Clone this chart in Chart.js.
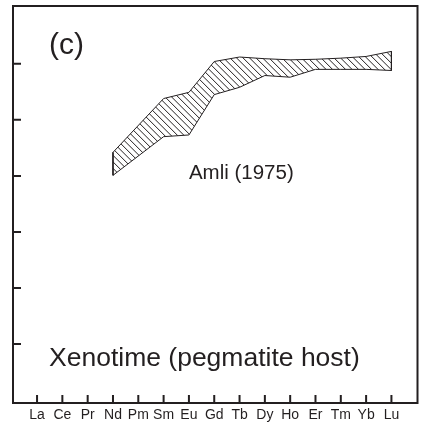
<!DOCTYPE html>
<html>
<head>
<meta charset="utf-8">
<script src="https://cdn.jsdelivr.net/npm/chart.js@4"></script>
<style>
  html, body { margin: 0; padding: 0; background: #ffffff; }
  #wrap { width: 424px; height: 423px; }
</style>
</head>
<body>
<div id="wrap"><canvas id="ree" width="424" height="423"></canvas></div>
<script>
// Rare earth elements along the x axis
const elements = ['La', 'Ce', 'Pr', 'Nd', 'Pm', 'Sm', 'Eu', 'Gd', 'Tb', 'Dy', 'Ho', 'Er', 'Tm', 'Yb', 'Lu'];
// Field of xenotime compositions, log10 chondrite-normalised (null = not analysed)
const upperLog = [null, null, null, 4.42, null, 5.38, 5.49, 6.04, 6.12, 6.09, 6.07, 6.08, 6.10, 6.13, 6.22];
const lowerLog = [null, null, null, 4.01, null, 4.70, 4.73, 5.45, 5.58, 5.79, 5.76, 5.90, 5.90, 5.90, 5.88];
// Decade tick marks on the y axis (log10 units)
const yTickValues = [1, 2, 3, 4, 5, 6];

const INK = '#231f20';
const FONT = 'Liberation Sans, Arial, Helvetica, sans-serif';

function toPoints(arr) {
  return arr.map((v, i) => ({ x: i, y: v })).filter(p => p.y !== null);
}
const upperPts = toPoints(upperLog);
const lowerPts = toPoints(lowerLog);
const firstPt = 0, lastPt = upperPts.length - 1;

// Hatches the area between the upper and lower bound lines with "\" strokes
const hatchPlugin = {
  id: 'hatch',
  beforeDatasetsDraw(chart) {
    const up = chart.getDatasetMeta(0).data;
    const lo = chart.getDatasetMeta(1).data;
    if (!up.length || !lo.length) return;
    const { ctx } = chart;
    const xs = up.concat(lo).map(p => p.x), ys = up.concat(lo).map(p => p.y);
    const minX = Math.min(...xs), maxX = Math.max(...xs);
    const minY = Math.min(...ys), maxY = Math.max(...ys);
    const h = maxY - minY;
    ctx.save();
    ctx.beginPath();
    up.forEach((p, i) => (i ? ctx.lineTo(p.x, p.y) : ctx.moveTo(p.x, p.y)));
    for (let i = lo.length - 1; i >= 0; i--) ctx.lineTo(lo[i].x, lo[i].y);
    ctx.closePath();
    ctx.clip();
    ctx.beginPath();
    for (let c = minX - h - 8; c < maxX + 8; c += 6.5) {
      ctx.moveTo(c, minY - 2);
      ctx.lineTo(c + h + 4, maxY + 2);
    }
    ctx.strokeStyle = INK;
    ctx.lineWidth = 1;
    ctx.stroke();
    ctx.restore();
  }
};

const framePlugin = {
  id: 'frame',
  afterDraw(chart) {
    const { ctx, chartArea: a, scales: { x, y } } = chart;
    ctx.save();
    ctx.strokeStyle = INK;
    ctx.lineWidth = 2;
    ctx.strokeRect(a.left, a.top, a.right - a.left, a.bottom - a.top);
    ctx.beginPath();
    yTickValues.forEach(v => {
      const py = y.getPixelForValue(v);
      ctx.moveTo(a.left, py); ctx.lineTo(a.left + 8, py);
    });
    elements.forEach((_, i) => {
      const px = x.getPixelForValue(i);
      ctx.moveTo(px, a.bottom); ctx.lineTo(px, a.bottom - 8);
    });
    ctx.stroke();

    ctx.fillStyle = INK;
    ctx.textBaseline = 'alphabetic';
    ctx.textAlign = 'left';
    ctx.font = '30px ' + FONT;
    ctx.fillText('(c)', a.left + 36, a.top + 48);
    ctx.font = '20.5px ' + FONT;
    ctx.fillText('Amli (1975)', x.getPixelForValue(6.0), y.getPixelForValue(3.95));
    ctx.font = '26.5px ' + FONT;
    ctx.fillText('Xenotime (pegmatite host)', a.left + 36, a.bottom - 37);
    ctx.restore();
  }
};

const lineStyle = { borderColor: INK, borderWidth: 1, pointRadius: 0, tension: 0, fill: false };

new Chart(document.getElementById('ree'), {
  type: 'line',
  data: {
    datasets: [
      Object.assign({ label: 'upper', data: upperPts }, lineStyle),
      Object.assign({ label: 'lower', data: lowerPts }, lineStyle),
      Object.assign({ label: 'left edge', data: [upperPts[firstPt], lowerPts[firstPt]] }, lineStyle),
      Object.assign({ label: 'right edge', data: [upperPts[lastPt], lowerPts[lastPt]] }, lineStyle)
    ]
  },
  options: {
    responsive: false,
    animation: false,
    devicePixelRatio: 1,
    layout: { padding: { left: 13, right: 6.5, top: 6, bottom: 0 } },
    plugins: { legend: { display: false }, tooltip: { enabled: false } },
    scales: {
      x: {
        type: 'linear',
        min: -0.95,
        max: 15.03,
        afterBuildTicks: s => { s.ticks = elements.map((_, i) => ({ value: i })); },
        afterFit: s => { s.height = 20; },
        grid: { display: false, drawTicks: false },
        border: { display: false },
        ticks: {
          autoSkip: false,
          maxRotation: 0,
          padding: 4,
          color: INK,
          font: { family: FONT, size: 14 },
          callback: v => elements[v]
        }
      },
      y: {
        type: 'linear',
        min: -0.05,
        max: 7.03,
        afterBuildTicks: s => { s.ticks = yTickValues.map(v => ({ value: v })); },
        afterFit: s => { s.width = 0; },
        grid: { display: false, drawTicks: false },
        border: { display: false },
        ticks: { display: false }
      }
    }
  },
  plugins: [hatchPlugin, framePlugin]
});
</script>
</body>
</html>
